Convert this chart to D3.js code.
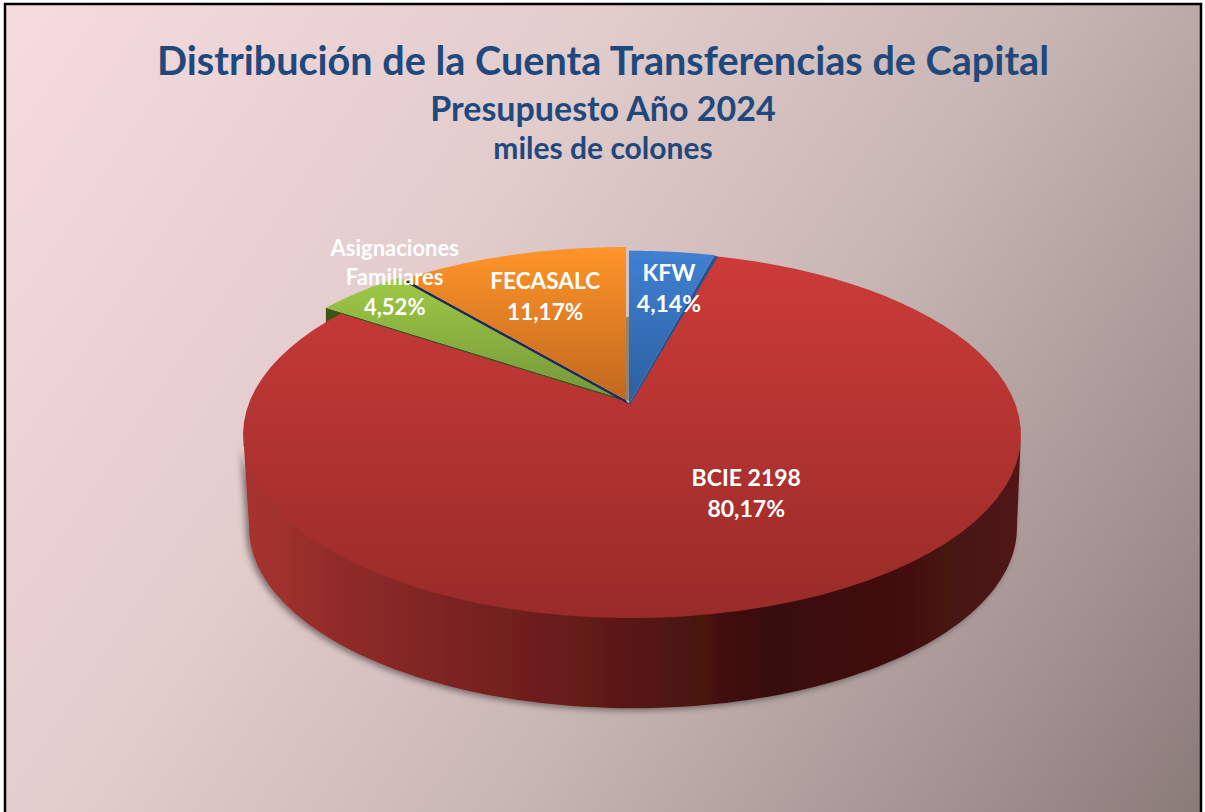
<!DOCTYPE html>
<html><head><meta charset="utf-8">
<script src="https://cdnjs.cloudflare.com/ajax/libs/d3/7.8.5/d3.min.js"></script>
<style>html,body{margin:0;padding:0;background:#fff;overflow:hidden}svg{display:block}text{font-family:Lato,"Open Sans",sans-serif;font-weight:700}</style>
</head><body><svg id="c" width="1205" height="812"></svg>
<script>
const categories = ["KFW", "BCIE 2198", "Asignaciones Familiares", "FECASALC"];
const values = [4.14, 80.17, 4.52, 11.17];
const labelNames = [["KFW"], ["BCIE 2198"], ["Asignaciones", "Familiares"], ["FECASALC"]];
const titles = ["Distribución de la Cuenta Transferencias de Capital", "Presupuesto Año 2024", "miles de colones"];

const W = 1205, H = 812;
const svg = d3.select("#c");
const defs = svg.append("defs");

const bg = defs.append("linearGradient").attr("id","bg").attr("gradientUnits","userSpaceOnUse")
  .attr("x1",6).attr("y1",5).attr("x2",1200).attr("y2",812);
[[0,"#f6dbdf"],[0.35,"#e2cccc"],[0.6,"#c8b6b4"],[0.85,"#a39291"],[1,"#8a7a78"]].forEach(s=>bg.append("stop").attr("offset",s[0]).attr("stop-color",s[1]));

const topColors = {
  "KFW":["#4080d2","#2b5f9f"],
  "BCIE 2198":["#cc3b39","#982b28"],
  "Asignaciones Familiares":["#9fca46","#75973a"],
  "FECASALC":["#ff9429","#c0681e"]
};
const sideColor = d3.scaleOrdinal().domain(categories).range(["#24538f","#6d1e1b","#3f5518","#1f2a5c"]);
categories.forEach((c,i)=>{
  const g = defs.append("linearGradient").attr("id","top"+i).attr("x1",0).attr("y1",0).attr("x2",0).attr("y2",1);
  g.append("stop").attr("offset",0).attr("stop-color",topColors[c][0]);
  g.append("stop").attr("offset",1).attr("stop-color",topColors[c][1]);
});
const wall = defs.append("linearGradient").attr("id","wall").attr("gradientUnits","userSpaceOnUse").attr("x1",243).attr("y1",0).attr("x2",1021).attr("y2",0);
[[0,"#a83330"],[0.15,"#8c2a27"],[0.4,"#6a1d1b"],[0.68,"#380d0c"],[0.9,"#451211"],[1,"#521816"]].forEach(s=>wall.append("stop").attr("offset",s[0]).attr("stop-color",s[1]));
const sh = defs.append("filter").attr("id","sh").attr("x","-5%").attr("y","-5%").attr("width","110%").attr("height","110%");
sh.append("feDropShadow").attr("dx",-3).attr("dy",2).attr("stdDeviation",3).attr("flood-color","#000").attr("flood-opacity",0.45);

svg.append("rect").attr("x",5).attr("y",4).attr("width",1196).attr("height",H).attr("fill","url(#bg)").attr("stroke","#000").attr("stroke-width",2.5);

// title
const titleLayout = [{y:75,s:39.6},{y:121,s:34},{y:159,s:30}];
svg.selectAll("text.t").data(titles).join("text").attr("class","t")
  .attr("x",603).attr("y",(d,i)=>titleLayout[i].y).attr("text-anchor","middle")
  .attr("font-size",(d,i)=>titleLayout[i].s).attr("fill","#1f497d").text(d=>d);

// perspective disc
const P = 0.175, A = 383, B = 177.4, AX = 632, AY = 403;
function project(theta, r, o){
  o = o || {};
  const k = o.k||1, u = r*Math.sin(theta), v = r*Math.cos(theta), s = 1/(1+P*v);
  return [AX+(o.dx||0)+k*A*u*s, (o.y0!==undefined?o.y0:AY+(o.dy||0))-k*B*v*s];
}
const line = d3.line();
const TAU = 2*Math.PI;
const arcs = d3.pie().sort(null).value(d=>d.v).startAngle(0).endAngle(TAU)(categories.map((c,i)=>({c,v:values[i]})));
const explode = [{dx:-3,dy:1,k:1.015},{dx:0,dy:0,k:1,ax:-2},{dx:-12,dy:-5,k:1.01},{dx:-6,dy:-3,k:1.013}];
function rim(a0,a1,o,n){ return d3.range(n+1).map(i=>project(a0+(a1-a0)*i/n,1,o)); }
function slicePts(a,o){ return [[AX+(o.dx||0)+(o.ax||0),AY+(o.dy||0)],...rim(a.startAngle,a.endAngle,o,80)]; }

const G = svg.append("g");
const gi = 2, oi = 3, bi = 0;
const corner = slicePts(arcs[gi],explode[gi]);
G.append("path").attr("d",line([corner[0],corner[1],[corner[1][0],corner[1][1]+15],[corner[0][0]+2,corner[0][1]+15]])+"Z").attr("fill",sideColor(categories[gi]));

// red body: side wall between the horizontal extremes of the top and bottom discs
const red = arcs[1];
const depth = 93, kb = 0.987;
const bot = {k:kb, y0:AY+depth, dx:1};
const ext = Math.asin(P);
const a0 = Math.PI/2+ext, a1 = 3*Math.PI/2-ext;
const front = rim(a0,a1,bot,120);
const frontT = rim(a0,a1,{dy:-3},120).reverse();
G.append("path").attr("d",line([...front,...frontT])+"Z").attr("fill","url(#wall)").attr("filter","url(#sh)");
G.append("path").attr("d",line(slicePts(red,explode[1]))+"Z").attr("fill","url(#top1)");

const bo = explode[bi], bs = slicePts(arcs[bi],bo), bEnd = bs[bs.length-1];
G.append("path").attr("d",line([[bs[0][0]+1,bs[0][1]+1],[bEnd[0]+3,bEnd[1]+2],[bEnd[0],bEnd[1]],[bs[0][0],bs[0][1]]])+"Z").attr("fill",sideColor(categories[bi]));
const oo = explode[oi], os = slicePts(arcs[oi],oo), oEnd = os[os.length-1], oStart = os[1];
G.append("path").attr("d",line(corner)+"Z").attr("fill","url(#top2)");
G.append("path").attr("d",line([[oEnd[0],oEnd[1]+70],[oEnd[0]+4,oEnd[1]+70],[os[0][0]+4,os[0][1]+1],[os[0][0],os[0][1]]])+"Z").attr("fill","#94826f");
G.append("path").attr("d",line([oStart,[oStart[0],oStart[1]+3],[os[0][0]+2,os[0][1]+4],os[0]])+"Z").attr("fill",sideColor(categories[oi]));
G.append("path").attr("d",line(os)+"Z").attr("fill","url(#top3)");
G.append("path").attr("d",line(bs)+"Z").attr("fill","url(#top0)");

// labels
const fmt = v => v.toFixed(2).replace(".",",")+"%";
const labelLayout = [{dA:1,r:.74,s:23,lh:31},{dA:-9.7,r:.54,s:23,lh:31},{dA:7.2,r:1.075,s:22,lh:29.5},{dA:-0.5,r:.72,s:22.6,lh:31}];
arcs.forEach((a,i)=>{
  const L = labelLayout[i], mid=(a.startAngle+a.endAngle)/2+L.dA*Math.PI/180;
  const c = project(mid,L.r);
  const lines = [...labelNames[i],fmt(values[i])];
  const y0 = c[1]-(lines.length-1)*L.lh/2;
  const t = svg.append("text").attr("text-anchor","middle").attr("fill","#fff").attr("font-size",L.s);
  lines.forEach((l,j)=>t.append("tspan").attr("x",c[0]).attr("y",y0+j*L.lh).attr("dy","0.36em").text(l));
});
</script></body></html>
